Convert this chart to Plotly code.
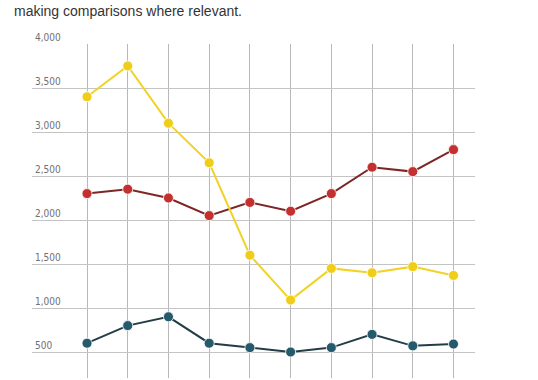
import plotly.graph_objects as go

categories = ["1", "2", "3", "4", "5", "6", "7", "8", "9", "10"]
yellow_values = [3400, 3750, 3100, 2650, 1600, 1090, 1450, 1400, 1470, 1370]
red_values = [2300, 2350, 2250, 2050, 2200, 2100, 2300, 2600, 2550, 2800]
teal_values = [600, 800, 900, 600, 550, 500, 550, 700, 570, 590]
y_ticks = [0, 500, 1000, 1500, 2000, 2500, 3000, 3500, 4000]

series = [
    (teal_values, "#233d47", "#245a6b"),
    (red_values, "#7e2626", "#c4302f"),
    (yellow_values, "#f2d227", "#f0cd18"),
]

fig = go.Figure()
for vals, lc, mc in series:
    fig.add_trace(go.Scatter(
        x=categories, y=vals, mode="lines+markers",
        line=dict(color=lc, width=2),
        marker=dict(color=mc, size=10, line=dict(color="rgba(255,255,255,0.8)", width=1)),
        showlegend=False, cliponaxis=False,
    ))

fig.add_annotation(
    text="making comparisons where relevant.",
    xref="paper", yref="paper",
    x=(12 - 32) / 443, y=(378 - 11) / 334,
    xanchor="left", yanchor="middle", showarrow=False,
    font=dict(family="Liberation Sans, Arial, sans-serif", size=14, color="#333333"),
)

fig.update_layout(
    width=538, height=380,
    margin=dict(l=32, r=63, t=44, b=2, autoexpand=False),
    paper_bgcolor="white", plot_bgcolor="white",
    xaxis=dict(
        type="category",
        range=[-1.351, 9.528],
        automargin=False,
        showgrid=True, gridcolor="#b8b8b8", gridwidth=1,
        showticklabels=False, zeroline=False, showline=False, ticks="",
    ),
    yaxis=dict(
        range=[204.5, 4000],
        automargin=False,
        tickvals=y_ticks,
        tickformat=",d",
        ticklabelposition="inside top",
        ticklabeloverflow="allow",
        tickfont=dict(family="Liberation Sans Narrow, DejaVu Sans Condensed, sans-serif", size=10, color="#707070"),
        showgrid=True, gridcolor="#c4c4c4", gridwidth=1,
        zeroline=False, showline=False, ticks="",
    ),
)

fig.write_html("out.html", config={"displayModeBar": False},
               post_script="document.body.style.margin='0';")
